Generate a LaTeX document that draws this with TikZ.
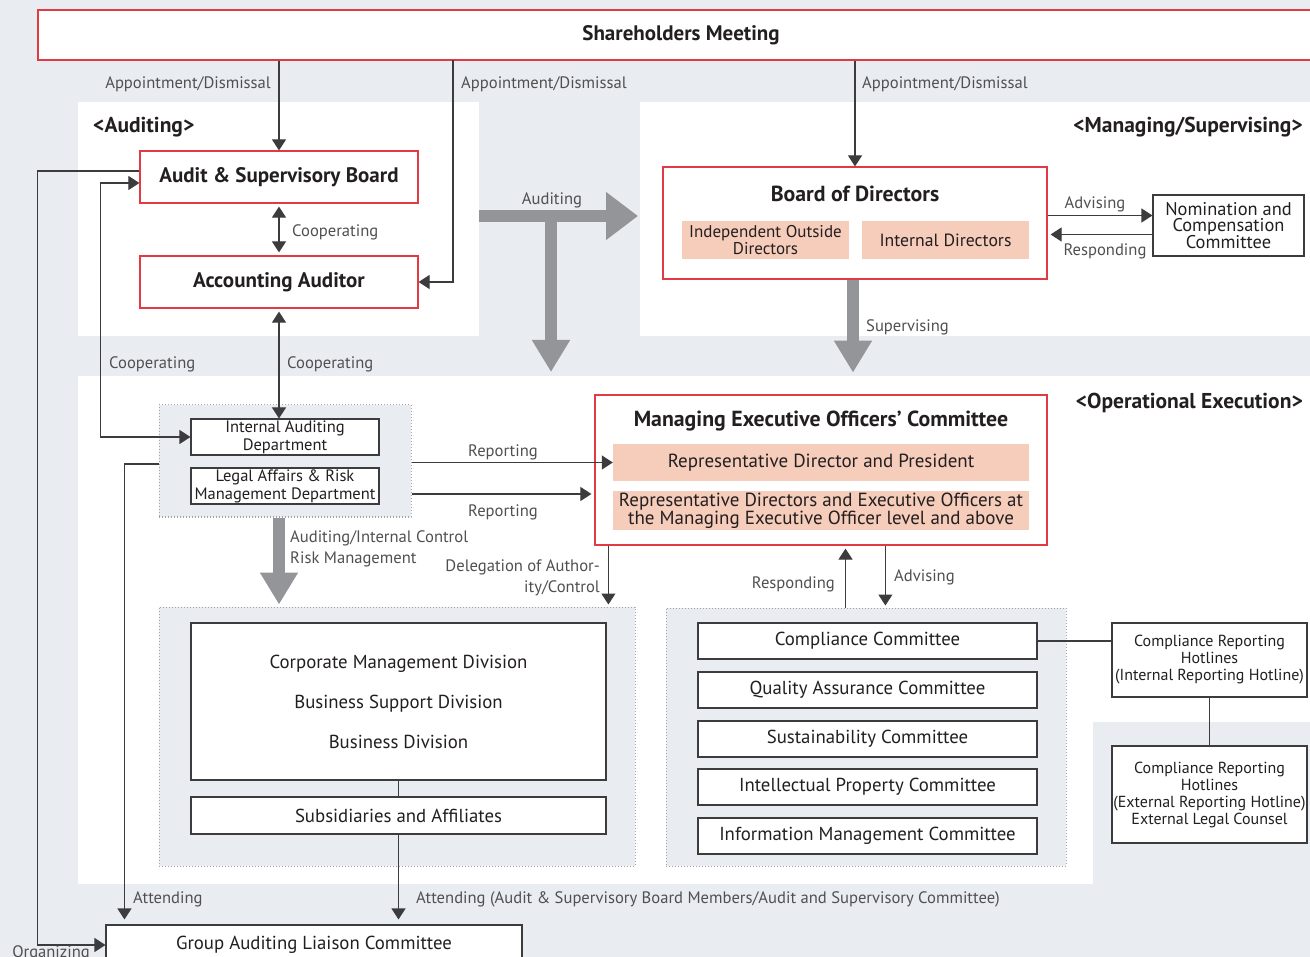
\documentclass[tikz,border=0pt]{standalone}
\usepackage{fontspec}
\setmainfont{PT Sans}
\usetikzlibrary{arrows.meta}

\definecolor{bgGray}{RGB}{233,236,241}
\definecolor{redLine}{RGB}{226,58,66}
\definecolor{salmon}{RGB}{246,204,186}
\definecolor{fatGray}{RGB}{147,149,152}
\definecolor{txtDark}{RGB}{35,31,32}
\definecolor{lblGray}{RGB}{80,80,82}
\definecolor{boxLine}{RGB}{60,60,62}
\definecolor{dotLine}{RGB}{160,162,166}

\tikzset{
  redbox/.style={draw=redLine, line width=1.2pt, fill=white, text=txtDark, inner sep=0pt,
    font=\bfseries\fontsize{21}{22}\selectfont},
  plainbox/.style={draw=boxLine, line width=1.1pt, fill=white, text=txtDark, inner sep=0pt,
    align=center, font=\fontsize{18.8}{20}\selectfont},
  pinkbox/.style={fill=salmon, text=txtDark, inner sep=0pt, align=center,
    font=\fontsize{19}{18}\selectfont},
  dotgroup/.style={draw=dotLine, dotted, line width=1pt, fill=bgGray},
  title/.style={text=txtDark, inner sep=0pt, font=\bfseries\fontsize{21.8}{22}\selectfont},
  head/.style={text=txtDark, inner sep=0pt, font=\bfseries\fontsize{21.5}{22}\selectfont},
  lbl/.style={text=lblGray, inner sep=0pt, font=\fontsize{16.6}{18}\selectfont},
  line/.style={draw=boxLine, line width=1.1pt},
  conn/.style={line, -{Triangle[length=11pt,width=14pt]}},
  dconn/.style={line, {Triangle[length=11pt,width=14pt]}-{Triangle[length=11pt,width=14pt]}},
  fat/.style={draw=fatGray, line width=12pt, -{Triangle[length=32pt,width=36pt]}},
  fatwide/.style={draw=fatGray, line width=12pt, -{Triangle[length=32pt,width=46pt]}},
}

\begin{document}
\begin{tikzpicture}[x=1pt,y=-1pt]
\useasboundingbox (0,0) rectangle (1310,957);

% panels
\fill[bgGray] (0,0) rectangle (1310,957);
\fill[white] (78,102) rectangle (479,336);
\fill[white] (640,102) rectangle (1310,336);
\fill[white] (78,376) rectangle (1093,884);
\fill[white] (1093,376) rectangle (1310,722);

\node[head, anchor=west] (hAud) at (93,127) {<Auditing>};
\node[head, anchor=east] (hMan) at (1303,127) {<Managing/Supervising>};
\node[head, anchor=east] (hOpe) at (1303,403) {<Operational Execution>};

% top
\node[redbox, minimum width=1286pt, minimum height=50pt] (sm) at (681,35) {Shareholders Meeting};

% auditing
\node[redbox, minimum width=278pt, minimum height=52pt] (asb) at (279,177) {Audit \& Supervisory Board};
\node[redbox, minimum width=278pt, minimum height=52pt] (aa) at (279,282) {Accounting Auditor};

% managing / supervising
\node[redbox, minimum width=384pt, minimum height=112pt] (bod) at (855,223) {};
\node[title] (bodT) at (855,194) {Board of Directors};
\node[pinkbox, minimum width=167pt, minimum height=38pt, font=\fontsize{17}{17}\selectfont] (iod) at (765.5,240) {Independent Outside\\Directors};
\node[pinkbox, minimum width=167pt, minimum height=38pt, font=\fontsize{17.7}{17}\selectfont] (ind) at (945.5,240) {Internal Directors};
\node[plainbox, minimum width=151pt, minimum height=61pt, font=\fontsize{18.4}{16}\selectfont] (ncc) at (1228.5,225.5) {Nomination and\\Compensation\\Committee};

% operational execution
\node[dotgroup, minimum width=252pt, minimum height=112pt] (grp1) at (285,461) {};
\node[plainbox, minimum width=188pt, minimum height=36pt, font=\fontsize{16.5}{18}\selectfont] (iad) at (285,437) {Internal Auditing\\Department};
\node[plainbox, minimum width=188pt, minimum height=36pt, font=\fontsize{16.5}{18}\selectfont] (lar) at (285,486) {Legal Affairs \& Risk\\Management Department};

\node[redbox, minimum width=452pt, minimum height=150pt] (meoc) at (821,470) {};
\node[title] (meocT) at (821,421) {Managing Executive Officers’ Committee};
\node[pinkbox, minimum width=416pt, minimum height=37pt] (rdp) at (821,462.5) {Representative Director and President};
\node[pinkbox, minimum width=416pt, minimum height=39pt] (rde) at (821,510.5) {Representative Directors and Executive Officers at\\the Managing Executive Officer level and above};

\node[dotgroup, minimum width=476pt, minimum height=259pt] (grp2) at (397,736.5) {};
\node[plainbox, minimum width=415pt, minimum height=157pt, font=\fontsize{18.8}{40}\selectfont] (div) at (398.5,701.5) {Corporate Management Division\\Business Support Division\\Business Division};
\node[plainbox, minimum width=415pt, minimum height=37pt] (sub) at (398.5,815.5) {Subsidiaries and Affiliates};

\node[dotgroup, minimum width=400pt, minimum height=258pt] (grp3) at (866,737) {};
\foreach \nm/\yy/\txt in {cc/641/Compliance Committee,
                          qac/690/Quality Assurance Committee,
                          suc/739/Sustainability Committee,
                          ipc/787/Intellectual Property Committee,
                          imc/836/Information Management Committee}{
  \node[plainbox, minimum width=339pt, minimum height=36pt] (\nm) at (867.5,\yy) {\txt};
}

\node[plainbox, minimum width=195pt, minimum height=74pt, font=\fontsize{16}{17}\selectfont] (hin) at (1209.5,660) {Compliance Reporting\\Hotlines\\(Internal Reporting Hotline)};
\node[plainbox, minimum width=195pt, minimum height=97pt, font=\fontsize{16}{17}\selectfont] (hex) at (1209.5,794.5) {Compliance Reporting\\Hotlines\\(External Reporting Hotline)\\External Legal Counsel};

\node[plainbox, minimum width=416pt, minimum height=40pt] (galc) at (314,945) {Group Auditing Liaison Committee};

% appointment / dismissal
\coordinate (smAA) at (453,60);
\draw[conn] (sm.south -| asb.north) -- (asb.north);
\draw[conn] (smAA) |- (aa.east);
\draw[conn] (sm.south -| bod.north) -- (bod.north);
\node[lbl, anchor=east] at (271,84) {Appointment/Dismissal};
\node[lbl, anchor=west] at (461,84) {Appointment/Dismissal};
\node[lbl, anchor=west] at (862,84) {Appointment/Dismissal};

% cooperating
\draw[dconn] ([yshift=-3pt]asb.south) -- ([yshift=3pt]aa.north);
\node[lbl, anchor=west] at (292,232) {Cooperating};
\draw[dconn] ([yshift=-3pt]aa.south) -- (aa.south |- iad.north);
\node[lbl, anchor=west] at (287,364) {Cooperating};
\draw[dconn] ([yshift=-6pt]asb.west) -- ++(-39,0) |- (iad.west);
\node[lbl, anchor=west] at (109,364) {Cooperating};

% organizing / attending
\draw[conn] ([yshift=6pt]asb.west) -- ++(-102,0) |- (galc.west);
\node[lbl, anchor=north east] at (90,945) {Organizing};
\draw[conn, shorten >=5pt] ([yshift=-3pt]grp1.west) -| ([xshift=19pt]galc.north west);
\node[lbl, anchor=west] at (133,899) {Attending};
\draw[conn, shorten >=5pt] (sub.south) -- (sub.south |- galc.north);
\node[lbl, anchor=west] at (416,899) {Attending (Audit \& Supervisory Board Members/Audit and Supervisory Committee)};

% board
\draw[conn] ([yshift=10pt]ncc.west -| bod.east) -- ([yshift=10pt]ncc.west);
\draw[conn, shorten >=3pt] ([yshift=-9pt]ncc.west) -- ([yshift=-9pt]ncc.west -| bod.east);
\node[lbl] at (1095,204) {Advising};
\node[lbl] at (1105,251) {Responding};

% thick arrows
\coordinate (audR) at (479,216);
\coordinate (audT) at (551,216);
\draw[fatwide] (audR) -- ++(159,0);
\draw[fat] (audT) -- ++(0,156);
\node[lbl] at (552,200) {Auditing};
\draw[fat] ([xshift=-2pt]bod.south) -- ++(0,93);
\node[lbl, anchor=west] at (866,327) {Supervising};
\draw[fat] ([xshift=-6pt]grp1.south) -- ++(0,87);
\node[lbl, anchor=west] at (290,538) {Auditing/Internal Control};
\node[lbl, anchor=west] at (290,559) {Risk Management};

% reporting
\draw[conn] (grp1.east |- rdp.west) -- (rdp.west);
\draw[conn, shorten >=3pt] ([yshift=-33pt]grp1.east) -- ([yshift=-33pt]grp1.east -| meoc.west);
\node[lbl] at (503,452) {Reporting};
\node[lbl] at (503,512) {Reporting};

% executive committee
\draw[conn, shorten >=2pt] ([xshift=14pt]meoc.south west) -- ([xshift=14pt]meoc.south west |- grp2.north);
\node[lbl, anchor=east] at (600,567) {Delegation of Author-};
\node[lbl, anchor=east] at (600,588) {ity/Control};
\draw[conn, shorten >=3pt] ([xshift=180pt]grp3.north west) -- ([xshift=180pt]grp3.north west |- meoc.south);
\draw[conn, shorten >=2pt] ([xshift=291pt]meoc.south west) -- ([xshift=291pt]meoc.south west |- grp3.north);
\node[lbl, anchor=east] at (835,584) {Responding};
\node[lbl, anchor=west] at (894,577) {Advising};

% divisions / hotlines
\draw[line] (div.south) -- (sub.north);
\draw[line] (cc.east) -- (cc.east -| hin.west);
\draw[line] (hin.south) -- (hex.north);

\end{tikzpicture}
\end{document}
